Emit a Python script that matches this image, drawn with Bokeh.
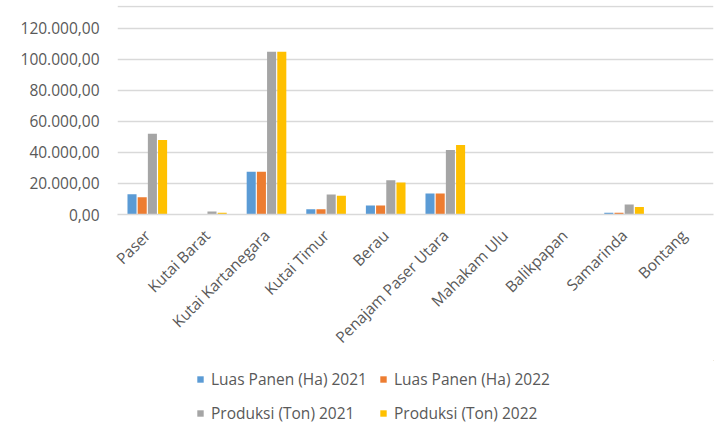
from math import pi

from bokeh.embed import file_html
from bokeh.resources import INLINE
from bokeh.layouts import column
from bokeh.plotting import figure
from bokeh.models import (ColumnDataSource, FixedTicker, Legend, LegendItem,
                          Span, Range1d)
from bokeh.transform import dodge

# Kabupaten/kota in Kalimantan Timur
categories = ["Paser", "Kutai Barat", "Kutai Kartanegara", "Kutai Timur", "Berau",
              "Penajam Paser Utara", "Mahakam Ulu", "Balikpapan", "Samarinda", "Bontang"]

luas_panen_2021 = [13000, 0, 27500, 3400, 5800, 13500, 0, 0, 1200, 0]
luas_panen_2022 = [11100, 0, 27500, 3400, 5800, 13500, 0, 0, 1200, 0]
produksi_2021 = [52000, 1900, 104800, 12900, 22000, 41600, 0, 0, 6400, 0]
produksi_2022 = [48000, 1100, 104800, 12000, 20600, 44800, 0, 0, 4900, 0]

series_names = ["Luas Panen (Ha) 2021", "Luas Panen (Ha) 2022",
                "Produksi (Ton) 2021", "Produksi (Ton) 2022"]
series_colors = ["#5B9BD5", "#ED7D31", "#A5A5A5", "#FFC000"]

y_ticks = [0, 20000, 40000, 60000, 80000, 100000, 120000]
y_tick_labels = ["0,00", "20.000,00", "40.000,00", "60.000,00",
                 "80.000,00", "100.000,00", "120.000,00"]

source = ColumnDataSource(data=dict(
    cat=categories,
    lp21=luas_panen_2021,
    lp22=luas_panen_2022,
    pr21=produksi_2021,
    pr22=produksi_2022,
))

FONT = "Open Sans"
TEXT = "#595959"
GRID = "#D9D9D9"

# headroom above the top tick leaves space for the chart-area border line
y_top = 134600

p = figure(x_range=categories, y_range=Range1d(0, y_top),
           width=726, height=360, output_backend="svg", toolbar_location=None,
           min_border_left=117, min_border_right=13, min_border_top=5,
           min_border_bottom=146)

slot = 0.171
bar_w = 0.152
cols = ["lp21", "lp22", "pr21", "pr22"]
for i, (col, color) in enumerate(zip(cols, series_colors)):
    p.vbar(x=dodge("cat", (i - 1.5) * slot, range=p.x_range), top=col,
           width=bar_w, source=source, fill_color=color, line_color=None)

# axes
p.yaxis.ticker = FixedTicker(ticks=y_ticks)
p.yaxis.major_label_overrides = {t: s for t, s in zip(y_ticks, y_tick_labels)}
p.yaxis.axis_line_color = None
p.yaxis.major_tick_line_color = None
p.yaxis.minor_tick_line_color = None
p.yaxis.major_label_standoff = 12
p.yaxis.major_label_text_font = FONT
p.yaxis.major_label_text_font_size = "15.5px"
p.yaxis.major_label_text_color = TEXT

p.xaxis.axis_line_color = GRID
p.xaxis.axis_line_width = 1.3
p.xaxis.major_tick_line_color = None
p.xaxis.minor_tick_line_color = None
p.xaxis.major_label_orientation = pi / 4
p.xaxis.major_label_standoff = 12
p.xaxis.major_label_text_font = FONT
p.xaxis.major_label_text_font_size = "15.5px"
p.xaxis.major_label_text_color = TEXT

p.xgrid.grid_line_color = None
p.ygrid.grid_line_color = GRID
p.ygrid.grid_line_width = 1.3
p.outline_line_color = None

# thin border along the top of the chart area
p.add_layout(Span(location=y_top - 700, dimension="width",
                  line_color=GRID, line_width=1.5))

# legend strip underneath the chart; swatch glyphs sit outside the visible range
lg = figure(width=726, height=80, output_backend="svg", toolbar_location=None,
            min_border=0, x_range=Range1d(0, 1), y_range=Range1d(0, 1))
lg.axis.visible = False
lg.grid.visible = False
lg.outline_line_color = None
swatches = [lg.vbar(x=[5], top=[5], bottom=[4], width=0.1,
                    fill_color=c, line_color=None)
            for c in series_colors]

# the legend fills column by column, so order items to read row by row
order = [0, 2, 1, 3]
legend = Legend(items=[LegendItem(label=series_names[k], renderers=[swatches[k]])
                       for k in order],
                ncols=2, location=(79, 16),
                glyph_width=8, glyph_height=8, label_standoff=7,
                label_height=20, spacing=12, padding=0, margin=0,
                label_text_font=FONT, label_text_font_size="15.5px",
                label_text_color=TEXT, border_line_color=None,
                background_fill_alpha=0)
lg.add_layout(legend)

layout = column(p, lg, spacing=0)
open("out.html", "w").write(file_html(layout, INLINE))
